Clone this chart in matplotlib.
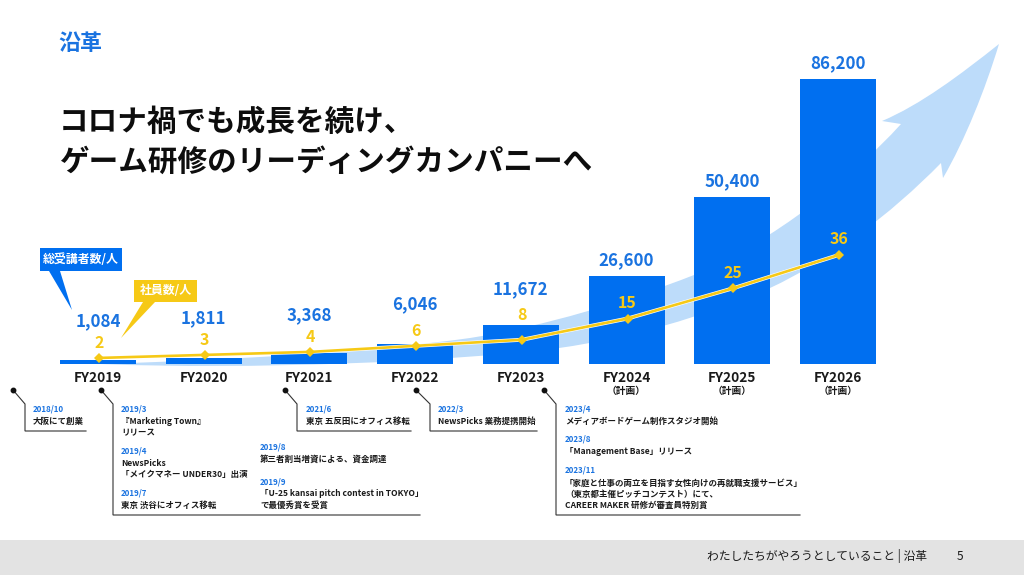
import matplotlib
matplotlib.use('Agg')
import matplotlib.pyplot as plt
import matplotlib.patheffects as pe
from matplotlib.patches import PathPatch, Polygon, Rectangle
from matplotlib.path import Path

plt.rcParams['font.family'] = ['Noto Sans CJK JP', 'DejaVu Sans']

# data
years = ['FY2019', 'FY2020', 'FY2021', 'FY2022', 'FY2023', 'FY2024', 'FY2025', 'FY2026']
year_notes = ['', '', '', '', '', '（計画）', '（計画）', '（計画）']
learners = [1084, 1811, 3368, 6046, 11672, 26600, 50400, 86200]
employees = [2, 3, 4, 6, 8, 15, 25, 36]

# how far above the bar / point the numbers sit, in px
learner_offsets = [39, 40, 38, 40, 36, 16, 16, 16]
employee_offsets = [15, 15, 15, 15, 25, 16, 15, 16]

BLUE = '#006ff0'
LABEL_BLUE = '#1a73e0'
YELLOW = '#f6c916'
LIGHT = '#bddcfa'
DARK = '#1a1a1a'

W, H = 1024, 575
BASE_Y = 364      # baseline of the bars, px from top
X0, STEP = 98, 105.7
PX_PER_LEARNER = 285 / 86200
PX_PER_EMPLOYEE = 3.03


def px_axes(fig, zorder):
    ax = fig.add_axes([0, 0, 1, 1], zorder=zorder)
    ax.set_xlim(0, W)
    ax.set_ylim(H, 0)
    ax.axis('off')
    ax.patch.set_alpha(0)
    return ax


def value_axes(fig, zorder, x0, y_scale):
    ax = fig.add_axes([0, 0, 1, 1], zorder=zorder)
    ax.set_xlim(-x0 / STEP, (W - x0) / STEP)
    ax.set_ylim(-(H - BASE_Y) / y_scale, BASE_Y / y_scale)
    ax.axis('off')
    ax.patch.set_alpha(0)
    return ax


def draw_swoosh(ax):
    verts = [
        (100, 364),
        (230, 360), (370, 352), (470, 338),
        (545, 326), (625, 302), (694, 275),
        (775, 240), (850, 180), (901, 124),
        (882, 121),
        (920, 105), (960, 75), (999, 44),
        (985, 90), (965, 140), (943, 178),
        (941, 163),
        (890, 215), (830, 260), (770, 288),
        (700, 318), (630, 338), (559, 348),
        (450, 362), (250, 370), (100, 364),
    ]
    codes = [Path.MOVETO,
             Path.CURVE4, Path.CURVE4, Path.CURVE4,
             Path.CURVE4, Path.CURVE4, Path.CURVE4,
             Path.CURVE4, Path.CURVE4, Path.CURVE4,
             Path.LINETO,
             Path.CURVE4, Path.CURVE4, Path.CURVE4,
             Path.CURVE4, Path.CURVE4, Path.CURVE4,
             Path.LINETO,
             Path.CURVE4, Path.CURVE4, Path.CURVE4,
             Path.CURVE4, Path.CURVE4, Path.CURVE4,
             Path.CURVE4, Path.CURVE4, Path.CURVE4]
    ax.add_patch(PathPatch(Path(verts, codes), fc=LIGHT, ec='none'))


def leader(ax, dot, elbow, corner, end):
    xs = [dot[0], elbow[0], corner[0], end[0]]
    ys = [dot[1], elbow[1], corner[1], end[1]]
    ax.plot(xs, ys, color='#333333', lw=0.8, solid_joinstyle='miter')
    ax.plot(dot[0], dot[1], 'o', color='#111111', ms=3.2)


def event(ax, x, y, date, lines, first=12, line_h=12):
    ax.text(x, y, date, color=LABEL_BLUE, fontsize=5.7, fontweight='bold', va='center')
    for i, line in enumerate(lines):
        ax.text(x, y + first + i * line_h, line, color=DARK, fontsize=6.1, fontweight='bold', va='center')


fig = plt.figure(figsize=(W / 100, H / 100), dpi=100, facecolor='white')

back = px_axes(fig, 1)
draw_swoosh(back)

# bars
ax = value_axes(fig, 2, X0, PX_PER_LEARNER)
xs = list(range(len(years)))
ax.bar(xs, learners, width=76 / STEP, color=BLUE)
for x, v, off in zip(xs, learners, learner_offsets):
    ax.annotate(f'{v:,}', (x, v), xytext=(0, off * 0.72), textcoords='offset points',
                ha='center', va='center', color=LABEL_BLUE, fontsize=12.2, fontweight='bold')
for x, name, note in zip(xs, years, year_notes):
    ax.annotate(name, (x, 0), xytext=(0, -13.5 * 0.72), textcoords='offset points',
                ha='center', va='center', color=DARK, fontsize=9.8, fontweight='bold')
    if note:
        ax.annotate(note, (x, 0), xytext=(0, -27 * 0.72), textcoords='offset points',
                    ha='center', va='center', color=DARK, fontsize=7, fontweight='bold')

# employee line, sits 1px right of the bar centres in the original
ax2 = value_axes(fig, 3, X0 + 1, PX_PER_EMPLOYEE)
ax2.plot(xs, employees, color=YELLOW, lw=1.9,
         path_effects=[pe.Stroke(linewidth=2.8, foreground='white'), pe.Normal()])
ax2.plot(xs, employees, ls='none', marker='D', ms=5.4, mfc=YELLOW, mec=YELLOW, mew=0)
for x, v, off in zip(xs, employees, employee_offsets):
    ax2.annotate(str(v), (x, v), xytext=(0, off * 0.72), textcoords='offset points',
                 ha='center', va='center', color=YELLOW, fontsize=11.5, fontweight='bold')

top = px_axes(fig, 4)

# heading
top.text(58, 43, '沿革', color=LABEL_BLUE, fontsize=15.8, fontweight='bold', va='center')
top.text(59, 122, 'コロナ禍でも成長を続け、', color='#0d0d0d', fontsize=21.3, fontweight='bold', va='center')
top.text(59, 162, 'ゲーム研修のリーディングカンパニーへ', color='#0d0d0d', fontsize=21.3, fontweight='bold', va='center')

# callouts
top.add_patch(Rectangle((40, 248), 82, 23, fc=BLUE, ec='none'))
top.add_patch(Polygon([(49, 271), (60, 271), (72, 310)], fc=BLUE, ec='none'))
top.text(81, 259.5, '総受講者数/人', color='white', fontsize=8.6, fontweight='bold', ha='center', va='center')
top.add_patch(Rectangle((134, 280), 63, 22, fc=YELLOW, ec='none'))
top.add_patch(Polygon([(143, 302), (155, 302), (121, 338)], fc=YELLOW, ec='none'))
top.text(166, 291, '社員数/人', color='white', fontsize=8.6, fontweight='bold', ha='center', va='center')

# history leaders
leader(top, (13, 390), (25, 404), (25, 431), (86, 431))
leader(top, (101, 390), (113, 404), (113, 515), (420, 515))
leader(top, (285, 390), (297, 404), (297, 431), (411, 431))
leader(top, (416, 390), (430, 404), (430, 431), (537, 431))
leader(top, (544, 390), (556, 404), (556, 515), (800, 515))

# history text
event(top, 33, 409, '2018/10', ['大阪にて創業'])
event(top, 121, 409, '2019/3', ['『Marketing Town』', 'リリース'])
event(top, 121, 451, '2019/4', ['NewsPicks', '「メイクマネー UNDER30」出演'])
event(top, 121, 493, '2019/7', ['東京 渋谷にオフィス移転'])
event(top, 260, 447, '2019/8', ['第三者割当増資による、資金調達'])
event(top, 260, 482, '2019/9', ['「U-25 kansai pitch contest in TOKYO」', 'で最優秀賞を受賞'], line_h=11)
event(top, 306, 409, '2021/6', ['東京 五反田にオフィス移転'])
event(top, 438, 409, '2022/3', ['NewsPicks 業務提携開始'])
event(top, 565, 409, '2023/4', ['メディアボードゲーム制作スタジオ開始'])
event(top, 565, 439, '2023/8', ['「Management Base」リリース'])
event(top, 565, 470, '2023/11', ['「家庭と仕事の両立を目指す女性向けの再就職支援サービス」',
                                 '（東京都主催ピッチコンテスト）にて、',
                                 'CAREER MAKER 研修が審査員特別賞'], first=13, line_h=11)

# footer
top.add_patch(Rectangle((0, 540), W, 35, fc='#e3e3e3', ec='none'))
top.text(707, 556, 'わたしたちがやろうとしていること | 沿革', color=DARK, fontsize=8.5, va='center')
top.text(960, 556, '5', color=DARK, fontsize=8.5, ha='center', va='center')

fig.savefig('out.png', dpi=100)
